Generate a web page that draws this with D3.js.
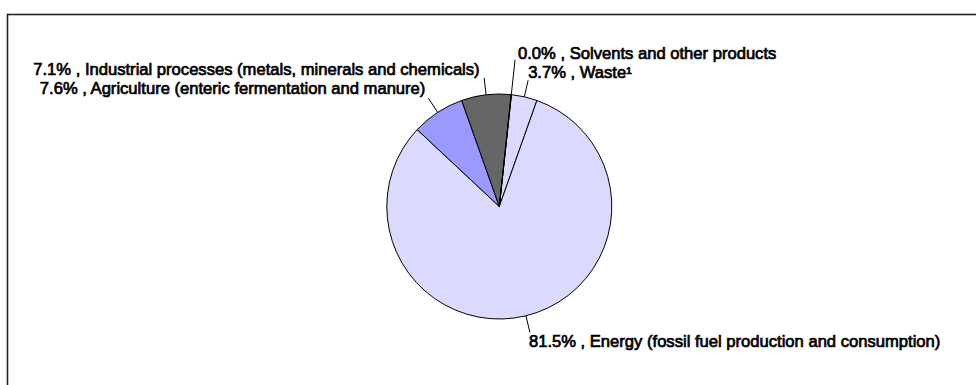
<!DOCTYPE html>
<html>
<head>
<meta charset="utf-8">
<script src="https://cdn.jsdelivr.net/npm/d3@7"></script>
<style>
  html, body { margin: 0; padding: 0; background: #fff; }
  svg { display: block; }
  text.lbl {
    font-family: "Liberation Sans", Arial, sans-serif;
    font-size: 16.6px;
    fill: #000;
    stroke: #000;
    stroke-width: 0.7px;
  }
</style>
</head>
<body>
<svg id="chart" width="976" height="385"></svg>
<script>
// Emission sources, listed clockwise from the first slice
const categories = [
  "Waste\u00B9",
  "Energy (fossil fuel production and consumption)",
  "Agriculture (enteric fermentation and manure)",
  "Industrial processes (metals, minerals and chemicals)",
  "Solvents and other products"
];
// Share of total, percent
const shares = [3.7, 81.5, 7.6, 7.1, 0.04];
const colors = ["#DADAFF", "#DADAFF", "#9999FF", "#666666", "#CCFFFF"];

// Label placement: leader length, text offset from leader end, anchor
const labelLayout = [
  { lead: 17, dx: 0,    dy: -2.5, anchor: "start" },
  { lead: 17, dx: -1,   dy: 15,   anchor: "start" },
  { lead: 17, dx: -3,   dy: -4,   anchor: "end" },
  { lead: 17, dx: -4.5, dy: -2.5, anchor: "end" },
  { lead: 35, dx: 3,    dy: -1,   anchor: "start" }
];

const svg = d3.select("#chart");
const W = 976, H = 385;

// Chart area frame
svg.append("rect")
  .attr("x", 7.5).attr("y", 14.5)
  .attr("width", W + 20).attr("height", H + 20)
  .attr("fill", "none")
  .attr("stroke", "#222")
  .attr("stroke-width", 1.6);

const cx = 499.3, cy = 206.5, r = 112.5;
const g = svg.append("g").attr("transform", `translate(${cx},${cy})`);

const start = 6.2 * Math.PI / 180;
const pie = d3.pie().sort(null).value(d => d.v)
  .startAngle(start).endAngle(start + 2 * Math.PI);
const data = categories.map((c, i) => ({ c, v: shares[i], col: colors[i], lay: labelLayout[i] }));
const arcs = pie(data);
const arc = d3.arc().innerRadius(0).outerRadius(r);

g.selectAll("path.slice")
  .data(arcs)
  .join("path")
  .attr("class", "slice")
  .attr("d", arc)
  .attr("fill", d => d.data.col)
  .attr("stroke", "#000")
  .attr("stroke-width", 1)
  .attr("stroke-linejoin", "round");

const fmt = d3.format(".1f");
arcs.forEach(d => {
  const a = (d.startAngle + d.endAngle) / 2;
  const ux = Math.sin(a), uy = -Math.cos(a);
  const x0 = ux * r, y0 = uy * r;
  const x1 = ux * (r + d.data.lay.lead), y1 = uy * (r + d.data.lay.lead);
  g.append("line")
    .attr("x1", x0).attr("y1", y0).attr("x2", x1).attr("y2", y1)
    .attr("stroke", "#000").attr("stroke-width", 1);
  g.append("text")
    .attr("class", "lbl")
    .attr("x", x1 + d.data.lay.dx)
    .attr("y", y1 + d.data.lay.dy)
    .attr("text-anchor", d.data.lay.anchor)
    .text(`${fmt(d.data.v)}% , ${d.data.c}`);
});
</script>
</body>
</html>
